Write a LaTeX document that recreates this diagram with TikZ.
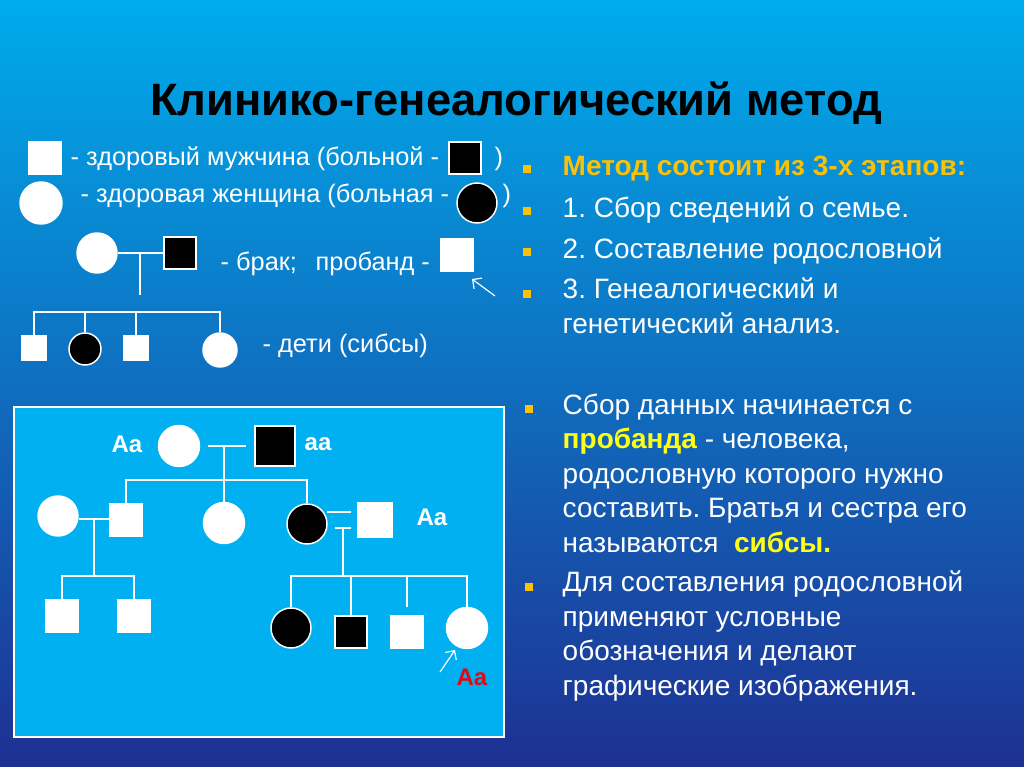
\documentclass[tikz,border=0pt]{standalone}
\usepackage{fontspec}
\setmainfont{Liberation Sans}
\frenchspacing
\usetikzlibrary{arrows.meta}

\definecolor{bgtop}{RGB}{0,172,236}
\definecolor{bgmid}{RGB}{14,118,208}
\definecolor{bgbot}{RGB}{30,48,146}
\definecolor{boxblue}{RGB}{0,176,240}
\definecolor{gold}{RGB}{250,192,10}
\definecolor{hilite}{RGB}{255,255,20}
\definecolor{probred}{RGB}{225,10,20}

\tikzset{
  man/.style = {rectangle, draw = white, fill = white, inner sep = 0pt, minimum size = #1},
  man/.default = 24pt,
  sickman/.style = {rectangle, draw = white, fill = black, inner sep = 0pt, minimum size = #1},
  sickman/.default = 24pt,
  woman/.style = {circle, draw = white, fill = white, inner sep = 0pt, minimum size = #1},
  woman/.default = 30pt,
  sickwoman/.style = {circle, draw = white, fill = black, inner sep = 0pt, minimum size = #1},
  sickwoman/.default = 30pt,
  legend/.style = {anchor = base west, inner sep = 0pt, text = white,
                   font = \fontsize{19}{22}\selectfont},
  stage/.style = {anchor = base west, inner sep = 0pt, text = white, align = left,
                  font = \fontsize{21}{25.8}\selectfont},
  bullet/.style = {rectangle, fill = gold, inner sep = 0pt, minimum size = 6pt},
  geno/.style = {text = white, inner sep = 0pt, font = \bfseries\fontsize{18}{20}\selectfont}
}

\begin{document}
\begin{tikzpicture}[x = 0.75pt, y = -0.75pt, line width = 1.1pt]
  \useasboundingbox (0,0) rectangle (1024,767);
  \shade [top color = bgtop, middle color = bgmid, bottom color = bgbot] (0,0) rectangle (1024,767);

  \node [anchor = base, inner sep = 0pt, font = \bfseries\fontsize{34}{38}\selectfont] (title) at (516,115)
    {Клинико-генеалогический метод};

  % legend
  \node [man = 24.75pt] (LM) at (45,158) {};
  \node [legend] (LMtext) at (70,165) {- здоровый мужчина (больной -};
  \node [sickman = 24pt] (LMs) at (465,158) {};
  \node [legend] (LMclose) at (494,165) {)};
  \node [woman = 31.5pt] (LW) at (41,203) {};
  \node [legend] (LWtext) at (80,202) {- здоровая женщина (больная -};
  \node [sickwoman = 30pt] (LWs) at (477,203) {};
  \node [legend] (LWclose) at (502,202) {)};

  \node [woman = 30pt] (PW) at (97,253) {};
  \node [sickman = 24pt] (PM) at (180,253) {};
  \coordinate (PK) at (140,253);
  \coordinate (PD) at (140,295);
  \draw [white] (PW) -- (PM);
  \draw [white] (PK) -- (PD);
  \node [legend] (PMtext) at (220,270) {- брак;\hspace{14pt}пробанд -};
  \node [man = 24pt] (PB) at (457,255) {};
  \coordinate (PBa) at (495,296);
  \coordinate (PBb) at (472,279);
  \draw [white, line width = 0.9pt, -{Straight Barb[length = 5pt]}] (PBa) -- (PBb);

  \node [man = 18.75pt] (K1) at (34,348) {};
  \node [sickwoman = 24pt] (K2) at (85,349) {};
  \node [man = 18.75pt] (K3) at (136,348) {};
  \node [woman = 25.5pt] (K4) at (220,350) {};
  \coordinate (KS) at (140,312);
  \draw [white] (K1.north) -- (K1.north |- KS) -- (K4.north |- KS) -- (K4.north);
  \draw [white] (K2.north) -- (K2.north |- KS);
  \draw [white] (K3.north) -- (K3.north |- KS);
  \node [legend] (Ktext) at (262,352) {- дети (сибсы)};

  % pedigree
  \draw [white, line width = 1.5pt, fill = boxblue] (14,407) rectangle (504,737);

  \node [woman = 30.75pt] (G1) at (179,446) {};
  \node [sickman = 30pt] (G2) at (275,446) {};
  \node [geno] (G1g) at (127,444) {Aa};
  \node [geno] (G2g) at (318,444) {aa};
  \coordinate (GK) at (224,446);
  \coordinate (GS) at (224,480);
  \draw [white] ([xshift = 6pt]G1.east) -- ([xshift = -6pt]G2.west);

  \node [woman = 30pt] (W1) at (58,516) {};
  \node [man = 24.75pt] (B1) at (126,520) {};
  \node [woman = 30.75pt] (B2) at (224,523) {};
  \node [sickwoman = 30pt] (B3) at (307,524) {};
  \node [man = 25.5pt] (H3) at (375,520) {};
  \node [geno] (H3g) at (432,517) {Aa};
  \draw [white] (GK) -- (B2.north);
  \draw [white] (B1.north) -- (B1.north |- GS) -- (B3.north |- GS) -- (B3.north);

  \coordinate (WK) at (94,519);
  \coordinate (WS) at (94,576);
  \draw [white] (W1.east |- WK) -- (B1.west |- WK);
  \draw [white] (WK) -- (WS);
  \node [man = 24.75pt] (C1) at (62,616) {};
  \node [man = 24.75pt] (C2) at (134,616) {};
  \draw [white] (C1.north) -- (C1.north |- WS) -- (C2.north |- WS) -- (C2.north);

  \coordinate (HK1) at (327,512);
  \coordinate (HK2) at (335,528);
  \coordinate (HK) at (343,528);
  \coordinate (HS) at (343,576);
  \draw [white] (HK1) -- ([xshift = -4.5pt]H3.west |- HK1);
  \draw [white] (HK2) -- ([xshift = -4.5pt]H3.west |- HK2);
  \draw [white] (HK) -- (HS);
  \node [sickwoman = 30pt] (D1) at (291,628) {};
  \node [sickman = 24pt] (D2) at (351,632) {};
  \node [man = 24.75pt] (D3) at (407,632) {};
  \node [woman = 30.75pt] (D4) at (467,628) {};
  \draw [white] (D1.north) -- (D1.north |- HS) -- (D4.north |- HS) -- (D4.north);
  \draw [white] (D2.north) -- (D2.north |- HS);
  \draw [white, shorten <= 6pt] (D3.north) -- (D3.north |- HS);
  \node [geno, text = probred] (D4g) at (472,677) {Aa};
  \coordinate (D4a) at (440,672);
  \coordinate (D4b) at (455,650);
  \draw [white, line width = 0.9pt, -{Straight Barb[length = 5pt]}] (D4a) -- (D4b);

  % stages (multi-line nodes: base = last line)
  \node [bullet] (S1b) at (527,169) {};
  \node [stage, text = gold, font = \bfseries\fontsize{21}{25.8}\selectfont] (S1) at (562,175)
    {Метод состоит из 3-х этапов:};
  \node [bullet] (S2b) at (527,211) {};
  \node [stage] (S2) at (562,217) {1. Сбор сведений о семье.};
  \node [bullet] (S3b) at (527,252) {};
  \node [stage] (S3) at (562,258) {2. Составление родословной};
  \node [bullet] (S4b) at (527,294) {};
  \node [stage] (S4) at (562,333) {3. Генеалогический и\\генетический анализ.};

  \node [bullet] (T1b) at (529,409) {};
  \node [stage] (T1) at (562,552)
    {Сбор данных начинается с\\
     \textcolor{hilite}{\bfseries пробанда} - человека,\\
     родословную которого нужно\\
     составить. Братья и сестра его\\
     называются \ \textcolor{hilite}{\bfseries сибсы.}};
  \node [bullet] (T2b) at (529,587) {};
  \node [stage] (T2) at (562,695)
    {Для составления родословной\\
     применяют условные\\
     обозначения и делают\\
     графические изображения.};
\end{tikzpicture}
\end{document}
